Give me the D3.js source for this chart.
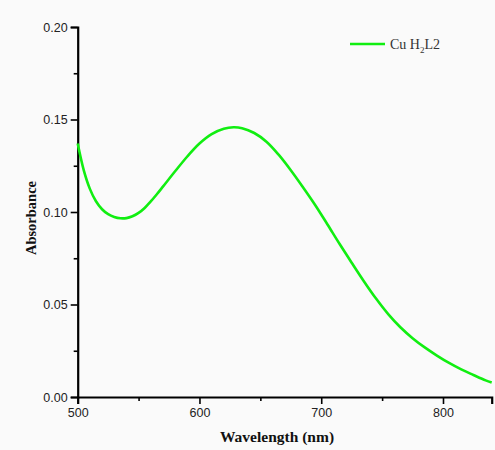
<!DOCTYPE html>
<html>
<head>
<meta charset="utf-8">
<script src="https://cdn.jsdelivr.net/npm/d3@7"></script>
<style>
  html, body { margin: 0; padding: 0; background: #fafafa; }
  svg { display: block; }
</style>
</head>
<body>
<svg id="chart" width="495" height="450"></svg>
<script>
// ---- data ----
const wavelength = [500, 505, 510, 515, 520, 525, 530, 535, 540, 545, 550, 555, 560, 565, 570, 580, 590, 600, 610, 620, 628, 635, 645, 655, 665, 675, 685, 695, 705, 715, 725, 735, 745, 755, 765, 775, 785, 795, 805, 815, 825, 835, 840];
const absorbance = [0.1370, 0.1225, 0.1125, 0.1058, 0.1015, 0.0988, 0.0973, 0.0966, 0.0967, 0.0977, 0.0995, 0.1022, 0.1057, 0.1096, 0.1137, 0.1220, 0.1300, 0.1370, 0.1421, 0.1450, 0.1458, 0.1453, 0.1427, 0.1380, 0.1310, 0.1226, 0.1134, 0.1038, 0.0934, 0.0828, 0.0726, 0.0626, 0.0532, 0.0448, 0.0377, 0.0318, 0.0268, 0.0224, 0.0184, 0.0149, 0.0119, 0.0090, 0.0078];
const xTicks = [500, 600, 700, 800];
const xMinorTicks = [550, 650, 750];
const yTicks = [0.00, 0.05, 0.10, 0.15, 0.20];
const yMinorTicks = [0.025, 0.075, 0.125, 0.175];
const xLabel = "Wavelength (nm)";
const yLabel = "Absorbance";

const svg = d3.select("#chart");
svg.append("rect").attr("width", 495).attr("height", 450).attr("fill", "#fafafa");

const x = d3.scaleLinear().domain([500, 840]).range([77.7, 491.7]);
const y = d3.scaleLinear().domain([0, 0.2]).range([397, 27]);

const tickFont = "'Liberation Sans', Arial, sans-serif";
const serif = "'Liberation Serif', 'Times New Roman', serif";

// x axis
const gx = svg.append("g").attr("transform", `translate(0,${y(0)})`);
gx.call(d3.axisBottom(x).tickValues(xMinorTicks).tickSize(4).tickFormat(""));
gx.call(g => g.selectAll(".domain").remove());
const gx2 = svg.append("g").attr("transform", `translate(0,${y(0)})`);
gx2.call(d3.axisBottom(x).tickValues(xTicks).tickSize(7).tickPadding(4).tickFormat(d3.format("d")));
[gx, gx2].forEach(g => {
  g.selectAll("line").attr("stroke", "#000").attr("stroke-width", 1.6);
  g.selectAll("text").attr("font-family", tickFont).attr("font-size", 12.5).attr("fill", "#222");
});
gx2.select(".domain").attr("stroke", "#000").attr("stroke-width", 2.2);

// y axis
const gy = svg.append("g").attr("transform", `translate(${x(500)},0)`);
gy.call(d3.axisLeft(y).tickValues(yMinorTicks).tickSize(4).tickFormat(""));
gy.call(g => g.selectAll(".domain").remove());
const gy2 = svg.append("g").attr("transform", `translate(${x(500)},0)`);
gy2.call(d3.axisLeft(y).tickValues(yTicks).tickSize(7).tickPadding(3).tickFormat(d3.format(".2f")));
[gy, gy2].forEach(g => {
  g.selectAll("line").attr("stroke", "#000").attr("stroke-width", 1.6);
  g.selectAll("text").attr("font-family", tickFont).attr("font-size", 12.5).attr("fill", "#222");
});
gy2.select(".domain").attr("stroke", "#000").attr("stroke-width", 2.2);

// curve
const pts = wavelength.map((w, i) => [w, absorbance[i]]);
const line = d3.line().x(d => x(d[0])).y(d => y(d[1])).curve(d3.curveCatmullRom.alpha(0.5));
svg.append("path").datum(pts)
  .attr("d", line)
  .attr("fill", "none")
  .attr("stroke", "#11ee11")
  .attr("stroke-width", 2.6)
  .attr("stroke-linejoin", "round");

// axis labels
svg.append("text")
  .attr("x", 277).attr("y", 442)
  .attr("text-anchor", "middle")
  .attr("font-family", serif).attr("font-weight", "bold").attr("font-size", 15.5)
  .attr("fill", "#111")
  .text(xLabel);

svg.append("text")
  .attr("transform", "translate(36,218) rotate(-90)")
  .attr("text-anchor", "middle")
  .attr("font-family", serif).attr("font-weight", "bold").attr("font-size", 14.5)
  .attr("fill", "#111")
  .text(yLabel);

// legend
svg.append("line")
  .attr("x1", 350).attr("x2", 385).attr("y1", 44).attr("y2", 44)
  .attr("stroke", "#11ee11").attr("stroke-width", 2.6);
const lt = svg.append("text")
  .attr("x", 390).attr("y", 48.5)
  .attr("font-family", serif).attr("font-size", 14)
  .attr("fill", "#333");
lt.append("tspan").text("Cu H");
lt.append("tspan").attr("font-size", 9).attr("dy", 4).text("2");
lt.append("tspan").attr("dy", -4).text("L2");
</script>
</body>
</html>
